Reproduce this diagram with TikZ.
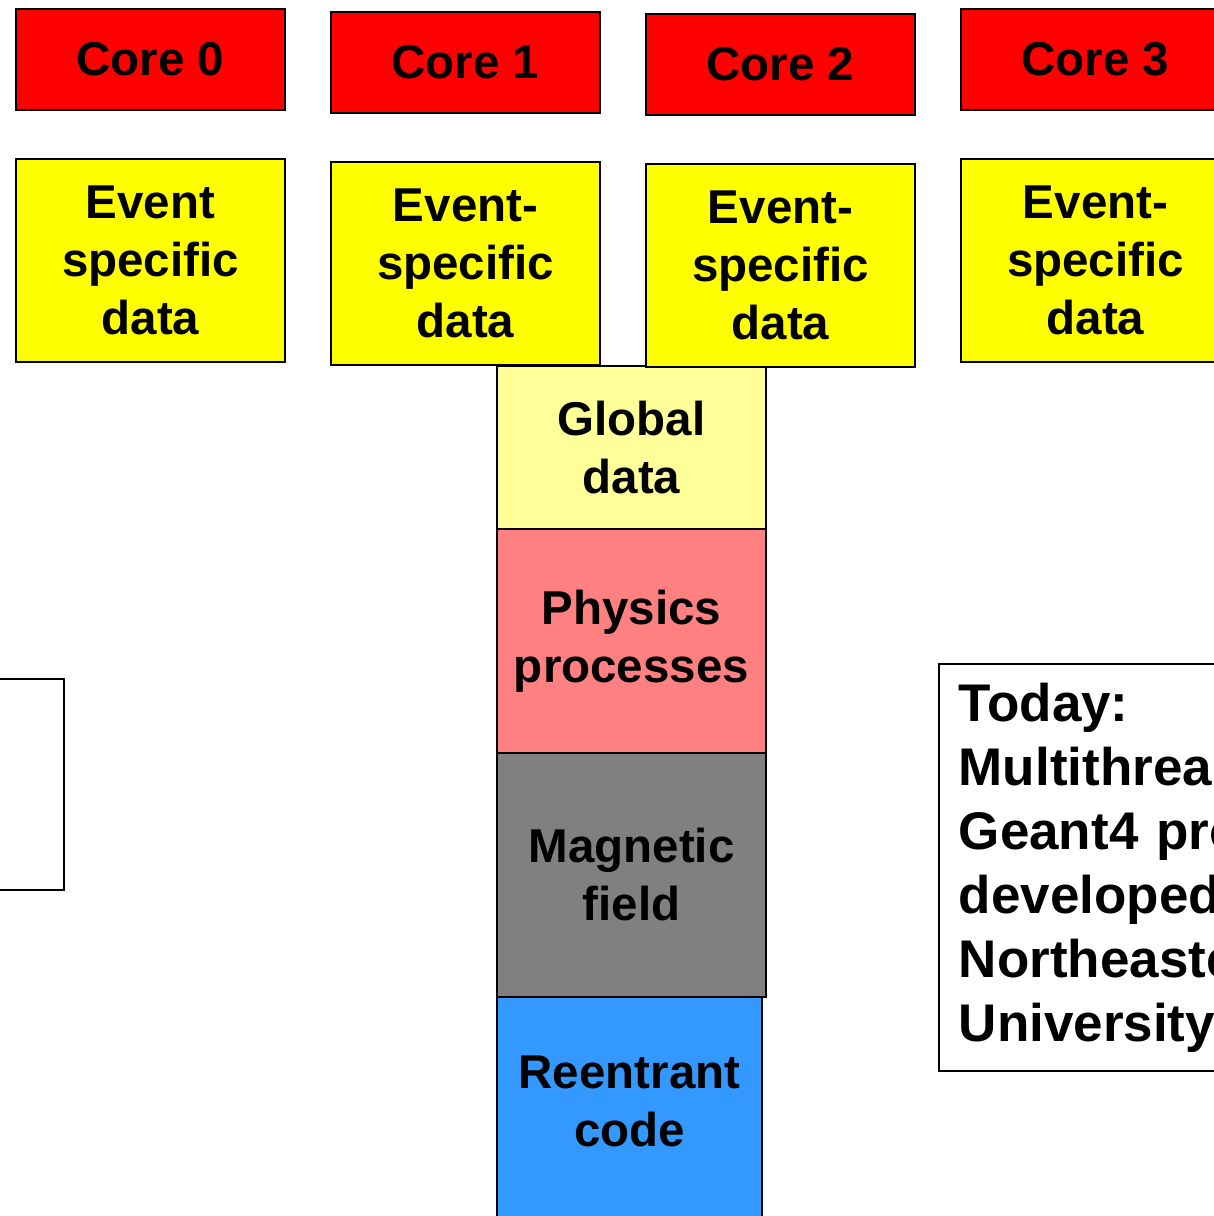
\documentclass[tikz,border=0pt]{standalone}
\usepackage{fontspec}
\setmainfont{Liberation Sans}
\definecolor{corered}{RGB}{255,0,0}
\definecolor{evyellow}{RGB}{255,255,0}
\definecolor{globalyellow}{RGB}{255,255,153}
\definecolor{physred}{RGB}{255,128,128}
\definecolor{maggray}{RGB}{128,128,128}
\definecolor{codeblue}{RGB}{51,153,255}
\begin{document}
\begin{tikzpicture}[x=1pt,y=-1pt,
  blk/.style={draw=black, line width=2pt, inner sep=0pt, outer sep=0pt,
    anchor=north west, align=center,
    font=\fontsize{47.5}{58}\selectfont\bfseries},
  corebox/.style={blk, fill=corered, minimum width=269pt, minimum height=101pt},
  evbox/.style={blk, fill=evyellow, minimum width=269pt, minimum height=203pt},
  stackbox/.style={blk, minimum width=269pt}]
\useasboundingbox (0,0) rectangle (1214,1216);
\clip (0,0) rectangle (1214,1216);
\fill[white] (0,0) rectangle (1214,1216);

% shared memory stack
\node[stackbox, fill=globalyellow, minimum height=163pt] (global) at (497,366) {Global\\data};
\node[stackbox, fill=physred, minimum height=224pt] (phys) at (497,529) {Physics\\processes};
\node[stackbox, fill=maggray, minimum height=244pt] (mag) at (497,753) {Magnetic\\field};
\node[stackbox, fill=codeblue, minimum width=265pt, minimum height=266pt] (reent) at (497,997) {Reentrant\\code\\\mbox{}};

% cores
\node[corebox] (c0) at (16,9) {Core 0};
\node[corebox] (c1) at (331,12) {Core 1};
\node[corebox] (c2) at (646,14) {Core 2};
\node[corebox] (c3) at (961,9) {Core 3};

% per-core event data
\node[evbox] (e0) at (16,159) {Event\\specific\\data};
\node[evbox] (e1) at (331,162) {Event-\\specific\\data};
\node[evbox] (e2) at (646,164) {Event-\\specific\\data};
\node[evbox] (e3) at (961,159) {Event-\\specific\\data};

% side boxes
\node[blk, fill=white, minimum width=269pt, minimum height=211pt] (leftbox) at (-205,679) {};
\node[draw=black, line width=1.6pt, fill=white, anchor=north west, inner xsep=20pt, inner ysep=0pt,
  minimum height=407pt, text width=560pt, align=left,
  font=\fontsize{53}{64}\selectfont\bfseries] (today) at (938,663)
  {Today:\\Multithreaded\\Geant4 prototype\\developed at\\Northeastern\\University};
\end{tikzpicture}
\end{document}
